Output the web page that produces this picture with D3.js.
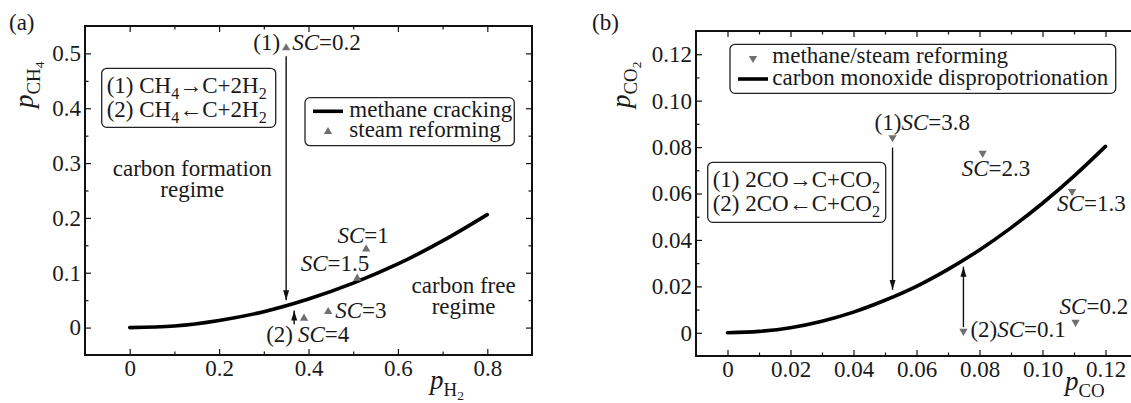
<!DOCTYPE html>
<html>
<head>
<meta charset="utf-8">
<script src="https://cdn.jsdelivr.net/npm/d3@7"></script>
<style>
  body { margin: 0; background: #fff; }
  svg { display: block; }
</style>
</head>
<body>
<svg id="chart" width="1131" height="403"></svg>
<script>
// (a) methane cracking equilibrium line
const crackH2 = [0, 0.1, 0.2, 0.3, 0.4, 0.5, 0.6, 0.7, 0.8]
const crackCH4 = [0, 0.003, 0.013, 0.029, 0.052, 0.081, 0.116, 0.158, 0.206]

// (a) steam reforming points
const steamSC = ['0.2', '1', '1.5', '3', '4']
const steamH2 = [0.35, 0.529, 0.509, 0.444, 0.39]
const steamCH4 = [0.51, 0.143, 0.09, 0.029, 0.017]

// (b) carbon monoxide disproportionation line
const dispCO = [0, 0.01, 0.02, 0.03, 0.04, 0.05, 0.06, 0.07, 0.08, 0.09, 0.10, 0.11, 0.12]
const dispCO2 = [0, 0.0006, 0.0022, 0.005, 0.0089, 0.014, 0.020, 0.0273, 0.0357, 0.0452, 0.0558, 0.0675, 0.0803]

// (b) methane/steam reforming points
const reformSC = ['3.8', '2.3', '1.3', '0.2', '0.1']
const reformCO = [0.0524, 0.081, 0.1094, 0.1105, 0.0749]
const reformCO2 = [0.0841, 0.0774, 0.0609, 0.0046, 0.0007]

// tick values
const xTicksA = [0, 0.2, 0.4, 0.6, 0.8]
const xMinorA = [0.1, 0.3, 0.5, 0.7]
const yTicksA = [0, 0.1, 0.2, 0.3, 0.4, 0.5]
const yMinorA = [0.05, 0.15, 0.25, 0.35, 0.45]
const xTicksB = [0, 0.02, 0.04, 0.06, 0.08, 0.10, 0.12]
const xMinorB = [0.01, 0.03, 0.05, 0.07, 0.09, 0.11]
const yTicksB = [0, 0.02, 0.04, 0.06, 0.08, 0.10, 0.12]
const yMinorB = [0.01, 0.03, 0.05, 0.07, 0.09, 0.11]

const serif = '"Liberation Serif", "DejaVu Serif", "Noto Serif", "Times New Roman", serif'
const svg = d3.select('#chart')
    .attr('font-family', serif)
const gray = '#707070'
const ink = '#1a1a1a'
const tickFont = 23
const textFont = 23

const defs = svg.append('defs')
defs.append('marker')
    .attr('id', 'head')
    .attr('viewBox', '0 0 10 10')
    .attr('refX', 10)
    .attr('refY', 5)
    .attr('markerWidth', 10)
    .attr('markerHeight', 10)
    .attr('markerUnits', 'userSpaceOnUse')
    .attr('orient', 'auto')
  .append('path')
    .attr('d', 'M0,2L10,5L0,8Z')
    .attr('fill', '#111')

// parts: [string, kind] where kind is '', 'i', 'sub' or 'sub2'
function rich(parent, x, y, parts, size, anchor) {
  const t = parent.append('text')
      .attr('x', x)
      .attr('y', y)
      .attr('font-family', serif)
      .attr('fill', ink)
      .attr('font-size', size)
      .attr('text-anchor', anchor || 'start')
  let shift = 0
  parts.forEach(([s, kind]) => {
    const ts = t.append('tspan').text(s)
    if (kind === 'sub' || kind === 'sub2') {
      const d = kind === 'sub' ? size * 0.25 : size * 0.4
      ts.attr('font-size', size * (kind === 'sub' ? 0.7 : 0.5)).attr('dy', d - shift)
      shift = d
    } else {
      if (shift) { ts.attr('dy', -shift); shift = 0 }
      if (kind === 'i') ts.attr('font-style', 'italic')
    }
  })
  return t
}

function scLabel(sc, pre) {
  const parts = []
  if (pre) parts.push([pre, ''])
  parts.push(['SC', 'i'], ['=' + sc, ''])
  return parts
}

function fmt(digits) {
  return d => d === 0 ? '0' : d3.format('.' + digits + 'f')(d)
}

function drawAxes(g, x, y, spec) {
  const [x0, x1] = x.range()
  const [y0, y1] = y.range()

  const axes = [
    [d3.axisBottom(x).tickValues(spec.xTicks).tickFormat(fmt(spec.xDigits)).tickSize(-6).tickPadding(5), `translate(0,${y0})`],
    [d3.axisBottom(x).tickValues(spec.xMinor).tickFormat('').tickSize(-3.5), `translate(0,${y0})`],
    [d3.axisTop(x).tickValues(spec.xTicks).tickFormat('').tickSize(-6), `translate(0,${y1})`],
    [d3.axisTop(x).tickValues(spec.xMinor).tickFormat('').tickSize(-3.5), `translate(0,${y1})`],
    [d3.axisLeft(y).tickValues(spec.yTicks).tickFormat(fmt(spec.yDigits)).tickSize(-6).tickPadding(4), `translate(${x0},0)`],
    [d3.axisLeft(y).tickValues(spec.yMinor).tickFormat('').tickSize(-3.5), `translate(${x0},0)`],
    [d3.axisRight(y).tickValues(spec.yTicks).tickFormat('').tickSize(-6), `translate(${x1},0)`],
    [d3.axisRight(y).tickValues(spec.yMinor).tickFormat('').tickSize(-3.5), `translate(${x1},0)`],
  ]

  axes.forEach(([axis, tr]) => {
    const a = g.append('g')
        .attr('transform', tr)
        .call(axis)
        .attr('font-family', serif)
        .attr('font-size', tickFont)
    a.select('.domain').remove()
    a.selectAll('line').attr('stroke', '#111').attr('stroke-width', 1.2)
    a.selectAll('text').attr('fill', ink)
  })

  g.append('rect')
      .attr('x', x0)
      .attr('y', y1)
      .attr('width', x1 - x0)
      .attr('height', y0 - y1)
      .attr('fill', 'none')
      .attr('stroke', '#111')
      .attr('stroke-width', 2)
}

function drawCurve(g, x, y, xs, ys) {
  const line = d3.line()
      .x(d => x(d[0]))
      .y(d => y(d[1]))
      .curve(d3.curveMonotoneX)
  g.append('path')
      .datum(xs.map((v, i) => [v, ys[i]]))
      .attr('d', line)
      .attr('fill', 'none')
      .attr('stroke', '#000')
      .attr('stroke-width', 3.6)
      .attr('stroke-linecap', 'round')
}

function drawArrow(g, x, y, xv, from, to) {
  g.append('line')
      .attr('x1', x(xv))
      .attr('x2', x(xv))
      .attr('y1', y(from))
      .attr('y2', y(to))
      .attr('stroke', '#111')
      .attr('stroke-width', 1.4)
      .attr('marker-end', 'url(#head)')
}

function plain(g, x, y, s, anchor) {
  return g.append('text')
      .attr('x', x)
      .attr('y', y)
      .attr('font-family', serif)
      .attr('fill', ink)
      .attr('font-size', textFont)
      .attr('text-anchor', anchor || 'start')
      .text(s)
}

function legendBox(g, bx, by, bw, bh, items) {
  g.append('rect')
      .attr('x', bx)
      .attr('y', by)
      .attr('width', bw)
      .attr('height', bh)
      .attr('rx', 5)
      .attr('fill', '#fff')
      .attr('stroke', '#222')
      .attr('stroke-width', 1.3)
  items.forEach(it => {
    if (it.kind === 'line') {
      g.append('line')
          .attr('x1', bx + 8)
          .attr('x2', bx + 38)
          .attr('y1', by + it.y - 6)
          .attr('y2', by + it.y - 6)
          .attr('stroke', '#000')
          .attr('stroke-width', 3.6)
    } else {
      g.append('path')
          .attr('d', d3.symbol(d3.symbolTriangle, 30)())
          .attr('transform', `translate(${bx + 23},${by + it.y - 5}) rotate(${it.kind === 'down' ? 180 : 0})`)
          .attr('fill', gray)
    }
    plain(g, bx + it.tx, by + it.y, it.label)
  })
}

function textBox(g, bx, by, bw, bh, lines) {
  g.append('rect')
      .attr('x', bx)
      .attr('y', by)
      .attr('width', bw)
      .attr('height', bh)
      .attr('rx', 5)
      .attr('fill', '#fff')
      .attr('stroke', '#222')
      .attr('stroke-width', 1.3)
  lines.forEach((parts, i) => {
    rich(g, bx + 5, by + 25 + i * 24, parts, textFont)
  })
}

// ---------- panel (a) ----------
const xa = d3.scaleLinear([-0.1, 0.9], [85, 532])
const ya = d3.scaleLinear([-0.05, 0.55], [355, 26])
const ga = svg.append('g')

drawAxes(ga, xa, ya, {
  xTicks: xTicksA, xMinor: xMinorA, xDigits: 1,
  yTicks: yTicksA, yMinor: yMinorA, yDigits: 1,
})

drawCurve(ga, xa, ya, crackH2, crackCH4)

drawArrow(ga, xa, ya, 0.35, 0.495, 0.05)
drawArrow(ga, xa, ya, 0.368, 0.006, 0.031)

ga.selectAll('path.pt')
  .data(steamSC)
  .join('path')
    .attr('class', 'pt')
    .attr('d', d3.symbol(d3.symbolTriangle, 30)())
    .attr('transform', (d, i) => `translate(${xa(steamH2[i])},${ya(steamCH4[i])})`)
    .attr('fill', gray)

// label offsets from each point: [dx, dy, anchor]
const steamLabelPos = [[6, 2, 'start'], [-3, -6, 'middle'], [12, -7, 'end'], [7, 6, 'start'], [-6, 24, 'start']]
steamSC.forEach((sc, i) => {
  const [dx, dy, anchor] = steamLabelPos[i]
  rich(ga, xa(steamH2[i]) + dx, ya(steamCH4[i]) + dy, scLabel(sc), textFont, anchor)
})
plain(ga, xa(steamH2[0]) - 6, ya(steamCH4[0]) + 2, '(1)', 'end')
plain(ga, xa(steamH2[4]) - 11, ya(steamCH4[4]) + 24, '(2)', 'end')

// regime captions
const regimeA = [
  { lines: ['carbon formation', 'regime'], x: 0.14, y: 0.276 },
  { lines: ['carbon free', 'regime'], x: 0.747, y: 0.063 },
]
regimeA.forEach(r => {
  r.lines.forEach((s, i) => {
    plain(ga, xa(r.x), ya(r.y) + i * 21, s, 'middle')
  })
})

textBox(ga, 101.7, 68.3, 174, 59, [
  [['(1) CH', ''], ['4', 'sub'], ['→C+2H', ''], ['2', 'sub']],
  [['(2) CH', ''], ['4', 'sub'], ['←C+2H', ''], ['2', 'sub']],
])

legendBox(ga, 305, 97.7, 209.3, 48, [
  { kind: 'line', label: 'methane cracking', y: 19.6, tx: 44.3 },
  { kind: 'up', label: 'steam reforming', y: 39, tx: 44.3 },
])

rich(ga, 430, 389, [['p', 'i'], ['H', 'sub'], ['2', 'sub2']], 27)
rich(ga.append('g').attr('transform', 'translate(33,108) rotate(-90)'), 0, 0,
    [['p', 'i'], ['CH', 'sub'], ['4', 'sub2']], 27)
plain(ga, 9, 30, '(a)')

// ---------- panel (b) ----------
const xb = d3.scaleLinear([-0.01, 0.13], [696, 1137])
const yb = d3.scaleLinear([-0.01, 0.13], [356, 31])
const gb = svg.append('g')

drawAxes(gb, xb, yb, {
  xTicks: xTicksB, xMinor: xMinorB, xDigits: 2,
  yTicks: yTicksB, yMinor: yMinorB, yDigits: 2,
})

drawCurve(gb, xb, yb, dispCO, dispCO2)

drawArrow(gb, xb, yb, 0.0524, 0.0798, 0.0185)
drawArrow(gb, xb, yb, 0.0749, 0.0024, 0.0285)

gb.selectAll('path.pt')
  .data(reformSC)
  .join('path')
    .attr('class', 'pt')
    .attr('d', d3.symbol(d3.symbolTriangle, 30)())
    .attr('transform', (d, i) => `translate(${xb(reformCO[i])},${yb(reformCO2[i])}) rotate(180)`)
    .attr('fill', gray)

const reformLabelPos = [[-18, -8, 'start', '(1)'], [-21, 23, 'start', ''], [-15, 20, 'start', ''],
  [-16, -8, 'start', ''], [7, 6, 'start', '(2)']]
reformSC.forEach((sc, i) => {
  const [dx, dy, anchor, pre] = reformLabelPos[i]
  rich(gb, xb(reformCO[i]) + dx, yb(reformCO2[i]) + dy, scLabel(sc, pre), textFont, anchor)
})

textBox(gb, 707.7, 162.3, 178, 60, [
  [['(1) 2CO→C+CO', ''], ['2', 'sub']],
  [['(2) 2CO←C+CO', ''], ['2', 'sub']],
])

legendBox(gb, 730, 44.3, 385.7, 49, [
  { kind: 'down', label: 'methane/steam reforming', y: 19, tx: 42.3 },
  { kind: 'line', label: 'carbon monoxide dispropotrionation', y: 40.7, tx: 42.3 },
])

rich(gb, 1065, 390, [['p', 'i'], ['CO', 'sub']], 27)
rich(gb.append('g').attr('transform', 'translate(630,108) rotate(-90)'), 0, 0,
    [['p', 'i'], ['CO', 'sub'], ['2', 'sub2']], 27)
plain(gb, 592, 30, '(b)')
</script>
</body>
</html>
